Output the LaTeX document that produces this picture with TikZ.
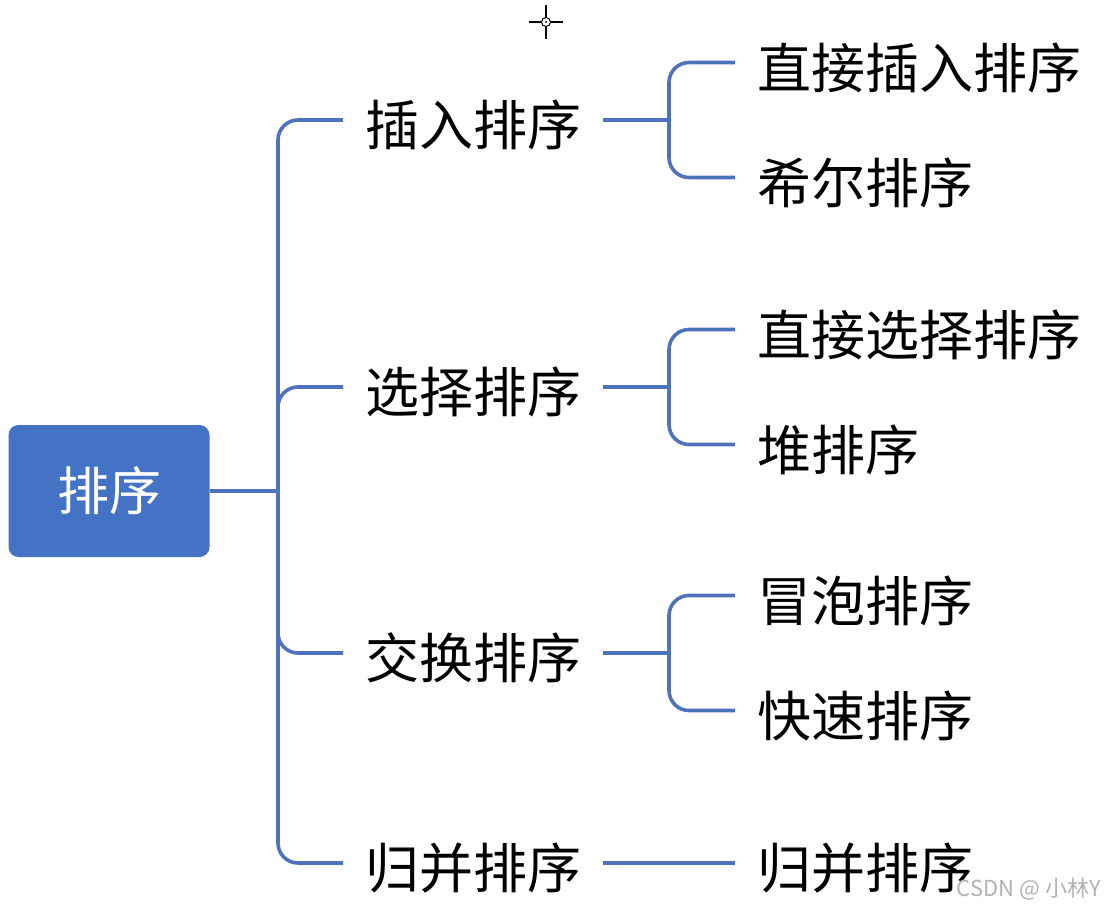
\documentclass[tikz,border=0pt]{standalone}
\usepackage{fontspec}
\newfontfamily\cjk{Noto Sans CJK SC}
\definecolor{mapblue}{HTML}{4472C4}
\definecolor{linkblue}{HTML}{4F72BD}

\begin{document}
\begin{tikzpicture}[x=1pt, y=-1pt,
    rootbox/.style={fill=mapblue, rounded corners=10pt, minimum width=201pt,
      minimum height=132pt, text=white, font=\cjk\fontsize{52}{60}\selectfont},
    topic/.style={anchor=west, inner xsep=22pt, inner ysep=0pt,
      text height=58pt, text depth=7pt,
      font=\cjk\fontsize{54}{62}\selectfont},
    link/.style={linkblue, line width=3.6pt, rounded corners=20pt}]

  \useasboundingbox (0,0) rectangle (1105,911);

  % Nodes:
  \node[rootbox] (sort) at (109,491) {排序};

  \node[topic] (ins) at (343,120) {插入排序};
  \node[topic] (sel) at (343,387) {选择排序};
  \node[topic] (swp) at (343,653) {交换排序};
  \node[topic] (mrg) at (343,863) {归并排序};

  \node[topic] (dins) at (735,62.5) {直接插入排序};
  \node[topic] (shell) at (735,177.5) {希尔排序};
  \node[topic] (dsel) at (735,329.5) {直接选择排序};
  \node[topic] (heap) at (735,444.5) {堆排序};
  \node[topic] (bub) at (735,595.5) {冒泡排序};
  \node[topic] (quick) at (735,710.5) {快速排序};
  \node[topic] (mrg2) at (735,863) {归并排序};

  \coordinate (j0) at (278,491);
  \coordinate (j1) at (669,120);
  \coordinate (j2) at (669,387);
  \coordinate (j3) at (669,653);

  % Connections:
  \draw[link] (sort.east) -- (j0);
  \foreach \t in {ins,sel,swp,mrg}
    \draw[link] (j0) |- (\t.west);

  \draw[link] (ins.east) -- (j1);
  \draw[link] (j1) |- (dins.west);
  \draw[link] (j1) |- (shell.west);

  \draw[link] (sel.east) -- (j2);
  \draw[link] (j2) |- (dsel.west);
  \draw[link] (j2) |- (heap.west);

  \draw[link] (swp.east) -- (j3);
  \draw[link] (j3) |- (bub.west);
  \draw[link] (j3) |- (quick.west);

  \draw[link] (mrg.east) -- (mrg2.west);

  % Watermark:
  \node[anchor=east, inner sep=0pt, text=black!30,
    font=\cjk\fontsize{22}{25}\selectfont] (mark) at (1101,889) {CSDN @ 小林Y};

  % Cursor:
  \draw[line width=1.3pt] (546,5) -- (546,17) (546,27) -- (546,39)
    (529,22) -- (541,22) (551,22) -- (563,22);
  \draw[line width=1pt] (546,22) circle (4.5pt);
  \fill (546,22) circle (1pt);

\end{tikzpicture}
\end{document}
